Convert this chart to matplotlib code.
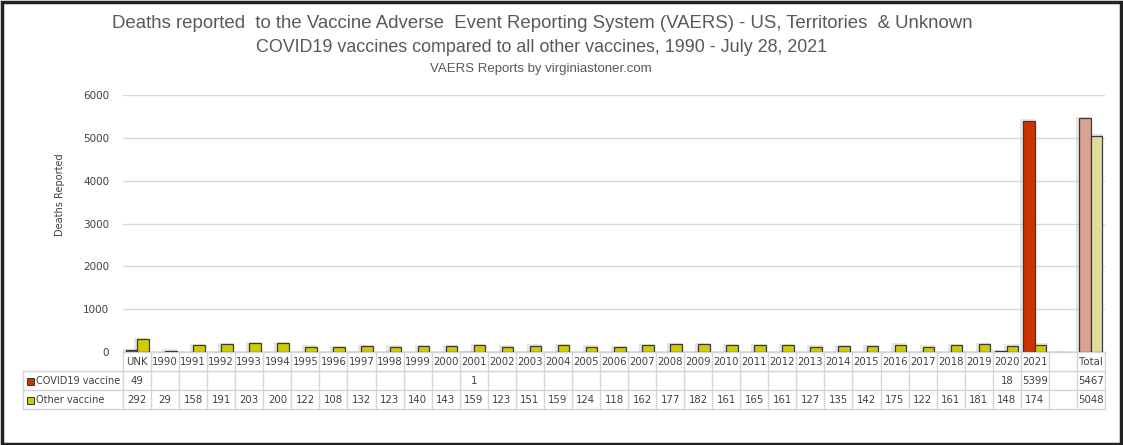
import numpy as np
import matplotlib.pyplot as plt
from matplotlib.transforms import blended_transform_factory
from matplotlib.patches import Rectangle

# chart data
categories = ['UNK'] + [str(y) for y in range(1990, 2022)] + ['', 'Total']
nan = np.nan
covid = [49] + [nan] * 11 + [1] + [nan] * 18 + [18, 5399, nan, 5467]
other = [292, 29, 158, 191, 203, 200, 122, 108, 132, 123, 140, 143, 159,
         123, 151, 159, 124, 118, 162, 177, 182, 161, 165, 161, 127, 135,
         142, 175, 122, 161, 181, 148, 174, nan, 5048]
series_names = ['COVID19 vaccine', 'Other vaccine']
yticks = [0, 1000, 2000, 3000, 4000, 5000, 6000]

W, H = 1123, 445
red, yellow = '#CC3300', '#CCCC00'
red_tot, yellow_tot = '#D9A394', '#E0DD9A'
txt = '#404040'
grid = '#D9D9D9'

fig = plt.figure(figsize=(W / 100, H / 100), dpi=100)
fy = lambda y: 1 - y / H
fx = lambda x: x / W

ax = fig.add_axes([fx(123), fy(352), fx(1105) - fx(123), fy(95) - fy(352)])
x = np.arange(len(categories))
bw = 0.41
cov = np.array(covid, dtype=float)
oth = np.array(other, dtype=float)
ncat = len(categories)
cols_r = [red] * (ncat - 1) + [red_tot]
cols_y = [yellow] * (ncat - 1) + [yellow_tot]

# soft shadows
ax.bar(x - bw / 2 - 0.05, np.nan_to_num(cov) + 30, bw + 0.12, color='#8c8c8c', alpha=0.22, zorder=1, linewidth=0)
ax.bar(x + bw / 2 - 0.05, np.nan_to_num(oth) + 30, bw + 0.12, color='#8c8c8c', alpha=0.22, zorder=1, linewidth=0)
ax.bar(x - bw / 2, cov, bw, color=cols_r, edgecolor='#3a3a3a', linewidth=0.9, zorder=3)
ax.bar(x + bw / 2, oth, bw, color=cols_y, edgecolor='#3a3a3a', linewidth=0.9, zorder=3)

ax.set_xlim(-0.5, ncat - 0.5)
ax.set_ylim(0, 6000)
ax.set_yticks(yticks)
ax.set_yticklabels([str(t) for t in yticks], fontsize=7.5, color=txt)
ax.tick_params(axis='y', length=0, pad=10)
ax.set_xticks([])
for s in ax.spines.values():
    s.set_visible(False)
ax.grid(axis='y', color=grid, linewidth=1)
ax.set_axisbelow(True)
fig.text(fx(60), fy(195), 'Deaths Reported', rotation=90, ha='center', va='center', fontsize=7, color=txt)

# data table under the bars
tr = blended_transform_factory(ax.transData, fig.transFigure)
rows_y = [352, 371, 390, 409]
lc = '#D4D4D4'
ax.plot([-0.5, ncat - 0.5], [fy(352)] * 2, transform=tr, color=lc, lw=1, clip_on=False)
for yy in rows_y[1:]:
    fig.add_artist(plt.Line2D([fx(23), fx(1105)], [fy(yy)] * 2, color=lc, lw=1))
fig.add_artist(plt.Line2D([fx(23), fx(23)], [fy(371), fy(409)], color=lc, lw=1))
for i in range(ncat + 1):
    ax.plot([i - 0.5] * 2, [fy(352), fy(409)], transform=tr, color=lc, lw=1, clip_on=False)

for i, c in enumerate(categories):
    ax.text(i, fy(362), c, transform=tr, ha='center', va='center', fontsize=7.3, color=txt)
    if not np.isnan(cov[i]):
        ax.text(i, fy(381), f'{int(cov[i])}', transform=tr, ha='center', va='center', fontsize=7.3, color=txt)
    if not np.isnan(oth[i]):
        ax.text(i, fy(400), f'{int(oth[i])}', transform=tr, ha='center', va='center', fontsize=7.3, color=txt)

for yy, name, col in zip([381, 400], series_names, [red, yellow]):
    fig.add_artist(Rectangle((fx(27), fy(yy + 4)), fx(7), 7 / H, facecolor=col, edgecolor='#333333', lw=0.7))
    fig.text(fx(36), fy(yy), name, ha='left', va='center', fontsize=7, color=txt)

# titles
fig.text(0.483, fy(23), 'Deaths reported  to the Vaccine Adverse  Event Reporting System (VAERS) - US, Territories  & Unknown',
         ha='center', va='center', fontsize=13.4, color='#595959', family='Liberation Sans')
fig.text(0.482, fy(48), 'COVID19 vaccines compared to all other vaccines, 1990 - July 28, 2021',
         ha='center', va='center', fontsize=12.9, color='#595959', family='Liberation Sans')
fig.text(0.482, fy(69), 'VAERS Reports by virginiastoner.com',
         ha='center', va='center', fontsize=9.5, color='#595959', family='Liberation Sans')

# outer frame
fig.add_artist(Rectangle((0.0015, 0.003), 0.997, 0.993, fill=False, edgecolor='#222222', lw=2.5))

fig.savefig('out.png', dpi=100, facecolor='white')
